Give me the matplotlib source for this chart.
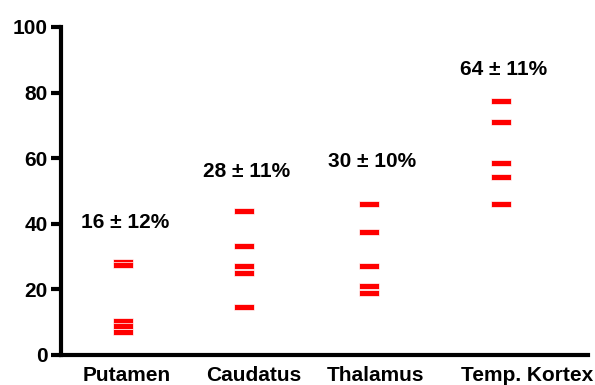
import matplotlib.pyplot as plt
from matplotlib import transforms
from matplotlib.path import Path

regions = ["Putamen", "Caudatus", "Thalamus", "Temp. Kortex"]
summaries = ["16 ± 12%", "28 ± 11%", "30 ± 10%", "64 ± 11%"]
putamen = [28.3, 27.4, 10.3, 8.8, 7.0]
caudatus = [43.9, 33.3, 27.0, 25.0, 14.5]
thalamus = [45.9, 37.5, 27.0, 20.9, 18.8]
kortex = [77.3, 71.0, 58.4, 54.3, 46.0]
yticks = [0, 20, 40, 60, 80, 100]

plt.rcParams['font.family'] = ['Liberation Sans', 'DejaVu Sans']
plt.rcParams['font.weight'] = 'bold'

fig = plt.figure(figsize=(5.95, 3.85), dpi=100)
ax = fig.add_axes([0.103, 0.078, 0.885, 0.852])

# flat bar marker, 3:1
bar = Path([(-1.5, -0.5), (1.5, -0.5), (1.5, 0.5), (-1.5, 0.5), (-1.5, -0.5)],
           [Path.MOVETO, Path.LINETO, Path.LINETO, Path.LINETO, Path.CLOSEPOLY])

xpos = [1, 2, 3.04, 4.13]
label_y = [40.5, 56, 59, 87]
groups = [putamen, caudatus, thalamus, kortex]
for x, vals, txt, ly in zip(xpos, groups, summaries, label_y):
    ax.plot([x] * len(vals), vals, ls='none', marker=bar, ms=14,
            mfc='#ff0000', mec='white', mew=0.5)
    ax.text(x + 0.02, ly, txt, ha='center', va='center', fontsize=15,
            fontweight='bold')

ax.set_xlim(0.49, 4.85)
ax.set_ylim(0, 100)
ax.set_yticks(yticks)
ax.set_xticks([])
ax.spines['top'].set_visible(False)
ax.spines['right'].set_visible(False)
ax.spines['left'].set_linewidth(3)
ax.spines['bottom'].set_linewidth(3)
ax.spines['left'].set_bounds(0, 100)
ax.tick_params(axis='y', length=7, width=3, pad=3, labelsize=15)
for lab in ax.get_yticklabels():
    lab.set_fontweight('bold')

# category names under the axis
trans = transforms.blended_transform_factory(ax.transData, ax.transAxes)
label_x = [1.03, 2.08, 3.09, 4.35]
for x, name in zip(label_x, regions):
    ax.text(x, -0.035, name, transform=trans, ha='center', va='top',
            fontsize=15, fontweight='bold')

fig.savefig("out.png", dpi=100)
